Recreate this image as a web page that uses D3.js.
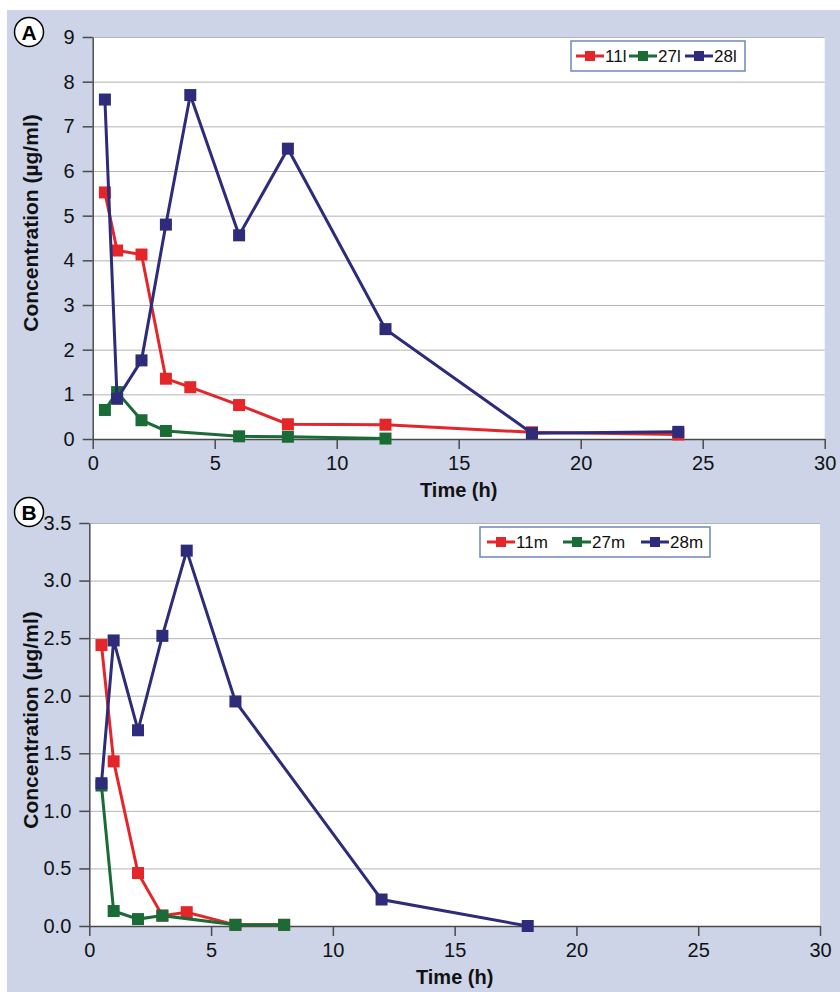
<!doctype html>
<html lang="en">
<head>
  <meta charset="UTF-8">
  <title>Concentration vs time</title>
<style>
  body{ margin: 0; background: #fff; }
  svg{ display: block; font-family: "Liberation Sans", Arial, sans-serif; }
  .grid line{ stroke: #b4b4b4; stroke-width: 1px; }
  .grid path{ display: none; }
  .axis path,
  .axis line{ fill: none; stroke: #4a4a4a; stroke-width: 1.5px; }
  .axis text{ font-size: 20px; fill: #111; }
  .title{ font-size: 20px; font-weight: bold; fill: #111; }
  .line{ fill: none; stroke-width: 3px; }
  .legend text{ font-size: 17px; fill: #111; }
</style>
</head>
<body>
<script src="https://d3js.org/d3.v7.min.js"></script>
<script>
// panel A
var times11l = [0.5, 1, 2, 3, 4, 6, 8, 12, 18, 24];
var conc11l  = [5.52, 4.22, 4.13, 1.35, 1.16, 0.76, 0.33, 0.32, 0.15, 0.1];
var times27l = [0.5, 1, 2, 3, 6, 8, 12];
var conc27l  = [0.65, 1.05, 0.42, 0.18, 0.06, 0.05, 0.01];
var times28l = [0.5, 1, 2, 3, 4, 6, 8, 12, 18, 24];
var conc28l  = [7.6, 0.9, 1.76, 4.8, 7.7, 4.56, 6.5, 2.46, 0.13, 0.16];
var ticksYA  = [0, 1, 2, 3, 4, 5, 6, 7, 8, 9];

// panel B
var times11m = [0.5, 1, 2, 3, 4, 6, 8];
var conc11m  = [2.44, 1.43, 0.46, 0.09, 0.12, 0.01, 0.01];
var times27m = [0.5, 1, 2, 3, 6, 8];
var conc27m  = [1.22, 0.13, 0.06, 0.09, 0.01, 0.01];
var times28m = [0.5, 1, 2, 3, 4, 6, 12, 18];
var conc28m  = [1.24, 2.48, 1.70, 2.52, 3.26, 1.95, 0.23, 0.0];
var ticksYB  = [0, 0.5, 1, 1.5, 2, 2.5, 3, 3.5];

var ticksX = [0, 5, 10, 15, 20, 25, 30];
var colors = {red: "#e4262b", green: "#1b6b37", navy: "#2d2b7a"};

function zip(xs, ys){
  return xs.map(function(x, i){ return {x: x, y: ys[i]}; });
}

var svg = d3.select("body").append("svg")
    .attr("width", 840)
    .attr("height", 992);

svg.append("rect")
    .attr("x", 7).attr("y", 10)
    .attr("width", 833).attr("height", 982)
    .attr("fill", "#cdd4e8");

function drawPanel(p){
  var xScale = d3.scaleLinear().domain([0, 30]).range([p.left, p.right]);
  var yScale = d3.scaleLinear().domain([0, p.ymax]).range([p.bottom, p.top]);

  svg.append("rect")
      .attr("x", p.left).attr("y", p.top)
      .attr("width", p.right - p.left).attr("height", p.bottom - p.top)
      .attr("fill", "#fff");

  svg.append("g")
      .attr("class", "grid")
      .attr("transform", "translate(" + p.left + ",0)")
      .call(d3.axisLeft(yScale).tickValues(p.yticks.slice(1))
        .tickSize(-(p.right - p.left)).tickFormat(""));

  svg.append("g")
      .attr("class", "x axis")
      .attr("transform", "translate(0," + p.bottom + ")")
      .call(d3.axisBottom(xScale).tickValues(ticksX)
        .tickSizeInner(10).tickSizeOuter(0).tickPadding(7));

  svg.append("g")
      .attr("class", "y axis")
      .attr("transform", "translate(" + p.left + ",0)")
      .call(d3.axisLeft(yScale).tickValues(p.yticks)
        .tickFormat(d3.format(p.yformat))
        .tickSizeInner(10).tickSizeOuter(0).tickPadding(8));

  var line = d3.line()
      .x(function(d){ return xScale(d.x); })
      .y(function(d){ return yScale(d.y); });

  p.series.forEach(function(s){
    var pts = zip(s.x, s.y);
    svg.append("path")
        .datum(pts)
        .attr("class", "line")
        .attr("stroke", s.color)
        .attr("d", line);
    svg.selectAll(null)
        .data(pts)
        .enter().append("rect")
        .attr("x", function(d){ return xScale(d.x) - 6; })
        .attr("y", function(d){ return yScale(d.y) - 6; })
        .attr("width", 12).attr("height", 12)
        .attr("fill", s.color);
  });

  svg.append("text")
      .attr("class", "title")
      .attr("x", (p.left + p.right) / 2)
      .attr("y", p.bottom + 58)
      .attr("text-anchor", "middle")
      .text("Time (h)");

  svg.append("text")
      .attr("class", "title")
      .attr("transform", "translate(38," + p.titleY + ") rotate(-90)")
      .attr("text-anchor", "middle")
      .style("font-size", "21px")
      .text("Concentration (\u00b5g/ml)");

  // panel letter
  svg.append("circle")
      .attr("cx", 29).attr("cy", p.labelY).attr("r", 14.5)
      .attr("fill", "#fff").attr("stroke", "#000").attr("stroke-width", 1.5);
  svg.append("text")
      .attr("x", 29).attr("y", p.labelY + 7.5)
      .attr("text-anchor", "middle")
      .style("font-size", "21px").style("font-weight", "bold")
      .text(p.label);

  // legend
  var lg = svg.append("g").attr("class", "legend");
  lg.append("rect")
      .attr("x", p.legend.x).attr("y", p.legend.y)
      .attr("width", p.legend.w).attr("height", 30)
      .attr("fill", "#fff").attr("stroke", "#6f86b8").attr("stroke-width", 1.5);
  p.series.forEach(function(s, i){
    var x0 = p.legend.items[i];
    var cy = p.legend.y + 15;
    lg.append("line")
        .attr("x1", x0).attr("x2", x0 + 28)
        .attr("y1", cy).attr("y2", cy)
        .attr("stroke", s.color).attr("stroke-width", 3);
    lg.append("rect")
        .attr("x", x0 + 9).attr("y", cy - 5)
        .attr("width", 10).attr("height", 10)
        .attr("fill", s.color);
    lg.append("text")
        .attr("x", x0 + 29).attr("y", cy + 6)
        .text(s.name);
  });
}

drawPanel({
  left: 92.7, right: 824.7, top: 37, bottom: 439,
  ymax: 9, yticks: ticksYA, yformat: "d",
  label: "A", labelY: 32, titleY: 223,
  legend: {x: 571, y: 41, w: 174, items: [576, 629, 685]},
  series: [
    {name: "11l", x: times11l, y: conc11l, color: colors.red},
    {name: "27l", x: times27l, y: conc27l, color: colors.green},
    {name: "28l", x: times28l, y: conc28l, color: colors.navy}
  ]
});

drawPanel({
  left: 89.3, right: 820, top: 523, bottom: 926,
  ymax: 3.5, yticks: ticksYB, yformat: ".1f",
  label: "B", labelY: 512, titleY: 720,
  legend: {x: 480, y: 527, w: 230, items: [487, 563, 641]},
  series: [
    {name: "11m", x: times11m, y: conc11m, color: colors.red},
    {name: "27m", x: times27m, y: conc27m, color: colors.green},
    {name: "28m", x: times28m, y: conc28m, color: colors.navy}
  ]
});
</script>
</body>
</html>
